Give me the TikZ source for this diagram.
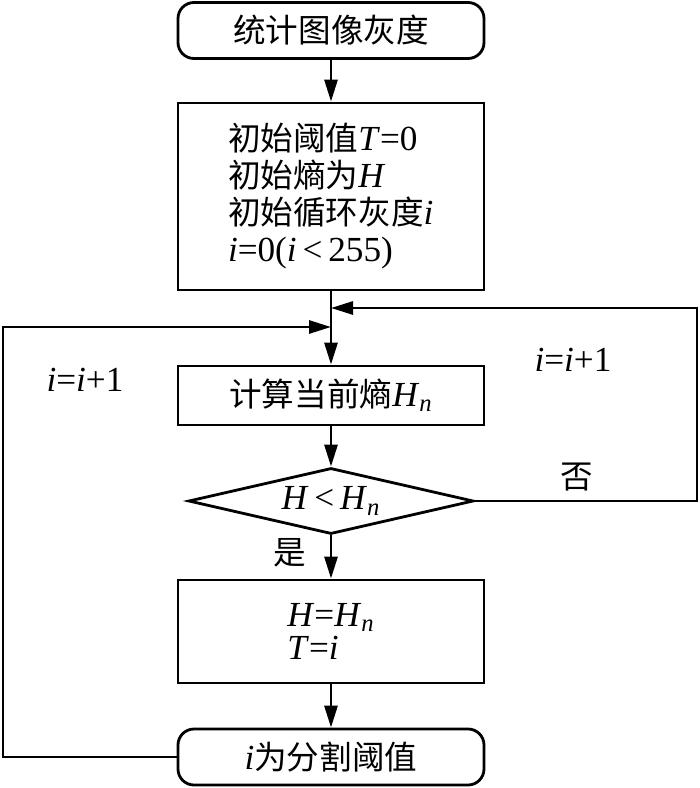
\documentclass[tikz,border=0pt]{standalone}
\usepackage{fontspec}
\setmainfont{Liberation Serif}[Scale=1.08]
\newfontfamily\cjk{Noto Sans CJK SC}
\usetikzlibrary{positioning,shapes.geometric,arrows.meta}

\begin{document}
\begin{tikzpicture}[
	x=0.5pt, y=-0.5pt,
	line width=1.4pt,
	% Define the styles of the flow chart
	arr/.style={-{Triangle[length=11pt,width=6.5pt]}},
	termbox/.style={draw, rounded corners=8pt, minimum width=153pt, minimum height=28pt, font=\fontsize{16.3}{18.5}\selectfont},
	procbox/.style={draw, minimum width=153pt, font=\fontsize{16.3}{18.5}\selectfont},
	decbox/.style={draw, diamond, aspect=4.3, inner sep=0pt, minimum width=142.5pt, minimum height=33pt, font=\fontsize{16.3}{18.5}\selectfont},
	lbl/.style={font=\fontsize{16.3}{18.5}\selectfont}
	]
	\useasboundingbox (0,0) rectangle (700,788);
	\node[termbox] (Start) at (331,30.5) {\cjk 统计图像灰度};
	\node[procbox, minimum height=93.5pt, text width=103pt, inner xsep=25pt, align=left] (Init) at (331,196.5)
		{{\cjk 初始阈值}\textit{T}=0\\{\cjk 初始熵为}\textit{H}\\{\cjk 初始循环灰度}\textit{i}\\\textit{i}=0(\textit{i}\,<\,255)};
	\node[procbox, minimum height=29.5pt] (Entropy) at (331,395.5) {{\cjk 计算当前熵}\textit{H}\textsubscript{\textit{n}}};
	\node[decbox] (Compare) at (331,501) {\textit{H}\,<\,\textit{H}\textsubscript{\textit{n}}};
	\node[procbox, minimum height=51.5pt, align=left, font=\fontsize{16.3}{16.5}\selectfont] (Update) at (331,631.5)
		{\textit{H}=\textit{H}\textsubscript{\textit{n}}\\\textit{T}=\textit{i}};
	\node[termbox] (Result) at (331,757) {\textit{i}{\cjk 为分割阈值}};
	\coordinate (RightJoin) at (331,308);
	\coordinate (LeftJoin) at (331,327);
	\coordinate (RightCorner) at (697,501);
	\coordinate (LeftCorner) at (3,327);
	\draw[arr] (Start) -- (Init);
	\draw[arr] (Init) -- (Entropy);
	\draw[arr] (Entropy) -- (Compare);
	\draw[arr] (Compare) -- (Update);
	\draw[arr] (Update) -- (Result);
	% loops back to the entropy step
	\draw[arr] (Compare.east) -- (RightCorner) |- (RightJoin);
	\draw[arr] (Result.west) -| (LeftCorner) -- (LeftJoin);
	\node[lbl] (No) at (577,477) {\cjk 否};
	\node[lbl] (Yes) at (290,553) {\cjk 是};
	\node[lbl] (StepRight) at (573,360) {\textit{i}=\textit{i}+1};
	\node[lbl] (StepLeft) at (85,380) {\textit{i}=\textit{i}+1};
\end{tikzpicture}
\end{document}
